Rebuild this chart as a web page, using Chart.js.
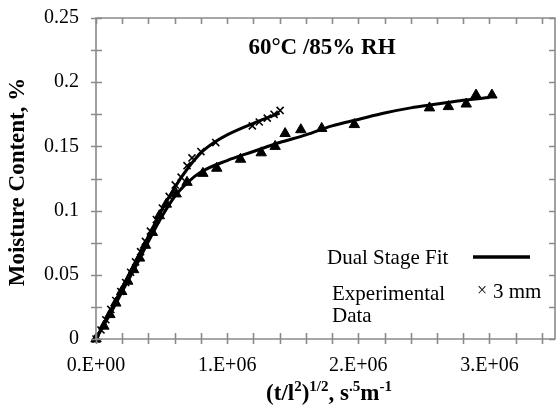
<!DOCTYPE html>
<html><head><meta charset="utf-8">
<script src="https://cdn.jsdelivr.net/npm/chart.js@4.4.1/dist/chart.umd.min.js"></script>
<style>html,body{margin:0;padding:0;background:#fff;overflow:hidden;width:558px;height:411px}
#wrap{position:relative;width:562px;height:411px}</style></head>
<body><div id="wrap"><canvas id="c"></canvas></div>
<script>
// ---- data ----
const xTickValues = [0, 1000000, 2000000, 3000000];
const xTickLabels = ['0.E+00', '1.E+06', '2.E+06', '3.E+06'];
const yTickValues = [0, 0.05, 0.1, 0.15, 0.2, 0.25];
const yTickLabels = ['0', '0.05', '0.1', '0.15', '0.2', '0.25'];
const xMin = 0, xMax = 3500000, xMinorStep = 200000;
const yMin = 0, yMax = 0.25, yMinorStep = 0.025;
const chartTitle = '60°C /85% RH';
const yAxisTitle = 'Moisture Content, %';

// experimental data, 3 mm (crosses)
const exp3mmX = [0, 38000, 75000, 113000, 151000, 189000, 226000, 264000, 302000, 340000, 377000, 415000, 460000, 506000, 558000, 604000, 649000, 694000, 732000, 800000, 913000, 1192000, 1245000, 1306000, 1358000, 1404000];
const exp3mmY = [0, 0.007, 0.015, 0.023, 0.030, 0.037, 0.044, 0.052, 0.060, 0.068, 0.076, 0.084, 0.093, 0.102, 0.111, 0.120, 0.126, 0.135, 0.141, 0.146, 0.153, 0.166, 0.169, 0.172, 0.175, 0.178];

// experimental data, triangles
const expTriX = [0, 60000, 106000, 151000, 196000, 242000, 287000, 332000, 377000, 430000, 483000, 536000, 611000, 694000, 815000, 921000, 1102000, 1260000, 1366000, 1442000, 1562000, 1721000, 1970000, 2543000, 2687000, 2823000, 2898000, 3019000];
const expTriY = [0, 0.010, 0.019, 0.028, 0.037, 0.045, 0.054, 0.063, 0.073, 0.083, 0.096, 0.105, 0.113, 0.122, 0.129, 0.133, 0.140, 0.145, 0.150, 0.160, 0.163, 0.164, 0.167, 0.180, 0.181, 0.183, 0.190, 0.190];

// dual stage fit curves
const fit3mmX = [0, 100000, 200000, 300000, 400000, 500000, 600000, 700000, 800000, 900000, 1000000, 1200000, 1400000];
const fit3mmY = [0, 0.020, 0.040, 0.060, 0.080, 0.100, 0.118, 0.133, 0.145, 0.153, 0.159, 0.168, 0.176];
const fitTriX = [0, 100000, 200000, 300000, 400000, 500000, 600000, 700000, 800000, 1000000, 1200000, 1400000, 1600000, 1800000, 2000000, 2200000, 2400000, 2600000, 2800000, 3000000];
const fitTriY = [0, 0.018, 0.037, 0.056, 0.076, 0.095, 0.111, 0.122, 0.130, 0.139, 0.146, 0.153, 0.159, 0.166, 0.171, 0.176, 0.180, 0.183, 0.186, 0.188];

const pts = (xs, ys) => xs.map((x, i) => ({x, y: ys[i]}));
const FONT = "'Liberation Serif', 'Times New Roman', serif";
const AXIS_COLOR = '#8a8a8a';

const framePlugin = {
  id: 'frame',
  afterDraw(chart) {
    const {ctx, chartArea: a, scales: {x, y}} = chart;
    ctx.save();
    ctx.strokeStyle = AXIS_COLOR;
    ctx.lineWidth = 1.6;
    ctx.beginPath();
    ctx.rect(a.left, a.top, a.right - a.left, a.bottom - a.top);
    ctx.stroke();
    ctx.beginPath();
    for (let v = xMin; v <= xMax + 1; v += xMinorStep) {
      const px = Math.round(x.getPixelForValue(v)) + 0.5;
      ctx.moveTo(px, a.bottom + 5); ctx.lineTo(px, a.bottom - 6);
      ctx.moveTo(px, a.top); ctx.lineTo(px, a.top + 6);
    }
    for (let v = yMin; v <= yMax + 1e-9; v += yMinorStep) {
      const py = Math.round(y.getPixelForValue(v)) + 0.5;
      ctx.moveTo(a.left - 5, py); ctx.lineTo(a.left + 6, py);
      ctx.moveTo(a.right, py); ctx.lineTo(a.right - 6, py);
    }
    ctx.stroke();

    // chart title
    ctx.fillStyle = '#000';
    ctx.font = 'bold 23px ' + FONT;
    ctx.textAlign = 'center';
    ctx.textBaseline = 'middle';
    ctx.fillText(chartTitle, 322, 48);

    // legend
    ctx.font = '21px ' + FONT;
    ctx.textAlign = 'left';
    ctx.fillText('Dual Stage Fit', 327, 258);
    ctx.fillText('Experimental', 332, 294);
    ctx.fillText('Data', 332, 316);
    ctx.fillText('3 mm', 493, 292);
    ctx.font = '18px ' + FONT;
    ctx.fillText('×', 477, 291);
    ctx.strokeStyle = '#000';
    ctx.lineWidth = 3.5;
    ctx.beginPath(); ctx.moveTo(473, 257); ctx.lineTo(530, 257); ctx.stroke();

    // y axis title
    ctx.save();
    ctx.translate(18, 182);
    ctx.rotate(-Math.PI / 2);
    ctx.font = 'bold 23px ' + FONT;
    ctx.textAlign = 'center';
    ctx.fillText(yAxisTitle, 0, 0);
    ctx.restore();

    // x axis title with superscripts
    const parts = [['(t/l', 0], ['2', 1], [')', 0], ['1/2', 1], [', s', 0], ['.5', 1], ['m', 0], ['-1', 1]];
    const mainF = 'bold 23px ' + FONT, supF = 'bold 15px ' + FONT;
    let total = 0;
    parts.forEach(([t, s]) => { ctx.font = s ? supF : mainF; total += ctx.measureText(t).width; });
    let cx = 329 - total / 2;
    const base = 400;
    ctx.textAlign = 'left';
    ctx.textBaseline = 'alphabetic';
    parts.forEach(([t, s]) => {
      ctx.font = s ? supF : mainF;
      ctx.fillText(t, cx, s ? base - 9 : base);
      cx += ctx.measureText(t).width;
    });
    ctx.restore();
  }
};

new Chart(document.getElementById('c'), {
  type: 'scatter',
  data: {
    datasets: [
      {label: 'Exp 3 mm', data: pts(exp3mmX, exp3mmY), pointStyle: 'crossRot', pointRadius: 5, borderColor: '#000', borderWidth: 1.6, backgroundColor: '#000', showLine: false, order: 0, clip: false},
      {label: 'Exp tri', data: pts(expTriX, expTriY), pointStyle: 'triangle', pointRadius: 6, borderColor: '#000', backgroundColor: '#000', borderWidth: 1, showLine: false, order: 0, clip: false},
      {label: 'Fit 3 mm', data: pts(fit3mmX, fit3mmY), showLine: true, pointRadius: 0, borderColor: '#000', borderWidth: 3, cubicInterpolationMode: 'monotone', order: 1},
      {label: 'Fit tri', data: pts(fitTriX, fitTriY), showLine: true, pointRadius: 0, borderColor: '#000', borderWidth: 3, cubicInterpolationMode: 'monotone', order: 1}
    ]
  },
  options: {
    responsive: true, maintainAspectRatio: false, animation: false,
    layout: {padding: {left: 0, right: 2, top: 18, bottom: 0}},
    plugins: {legend: {display: false}, tooltip: {enabled: false}},
    scales: {
      x: {
        type: 'linear', min: xMin, max: xMax,
        afterBuildTicks: s => { s.ticks = xTickValues.map(v => ({value: v})); },
        afterFit: s => { s.height = 72; },
        grid: {display: false}, border: {display: false},
        ticks: {padding: 7, color: '#000', font: {family: FONT, size: 20}, maxRotation: 0, autoSkip: false,
                callback: (v, i) => xTickLabels[i]}
      },
      y: {
        type: 'linear', min: yMin, max: yMax,
        afterBuildTicks: s => { s.ticks = yTickValues.map(v => ({value: v})); },
        afterFit: s => { s.width = 96; },
        grid: {display: true, drawOnChartArea: false, drawTicks: true, tickLength: 17, color: 'rgba(0,0,0,0)'},
        border: {display: false},
        ticks: {padding: 0, color: '#000', font: {family: FONT, size: 20}, autoSkip: false,
                callback: (v, i) => yTickLabels[i]}
      }
    }
  },
  plugins: [framePlugin]
});
</script></body></html>
